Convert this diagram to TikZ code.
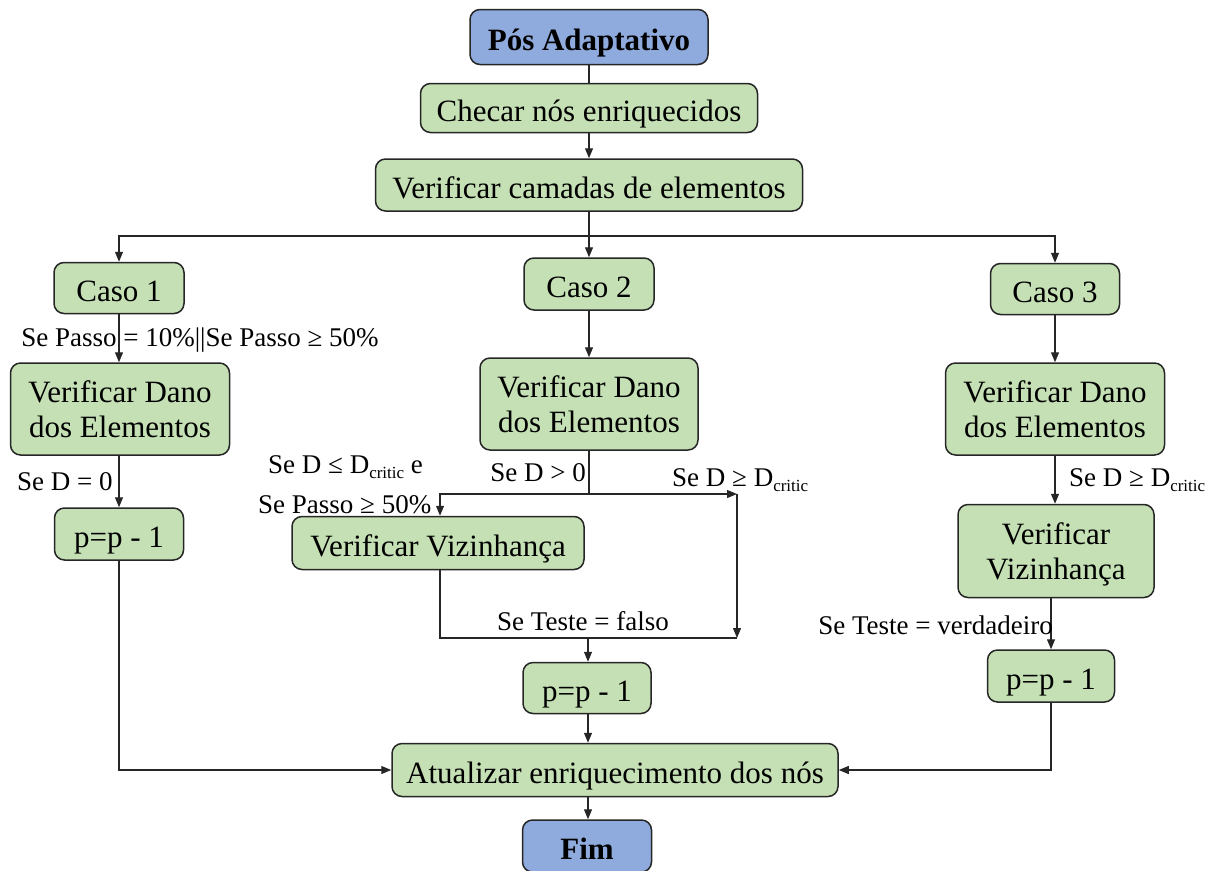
\documentclass[tikz,border=0pt]{standalone}
\usepackage{fontspec}
\setmainfont{Liberation Serif}
\usetikzlibrary{arrows.meta}
\definecolor{boxgreen}{HTML}{C5E0B4}
\definecolor{boxblue}{HTML}{8FAADC}
\definecolor{edge}{HTML}{262626}
% lowered, reduced subscript for the critical damage value
\newcommand\critsub{\raisebox{-0.45ex}{\fontsize{17}{17}\selectfont critic}}
\begin{document}
\begin{tikzpicture}[x=1pt,y=-1pt,
  boxbase/.style={draw=edge,line width=1.5pt,rounded corners=10pt,fill=boxgreen,
    inner sep=0pt,align=center,font=\fontsize{31}{35}\selectfont},
  box/.style={boxbase,text height=28pt,text depth=1.5pt},
  box2/.style={boxbase,text depth=0pt},
  term/.style={box,fill=boxblue,font=\fontsize{31}{35}\selectfont\bfseries},
  lbl/.style={inner sep=0pt,font=\fontsize{27}{31}\selectfont},
  conn/.style={draw=edge,line width=1.2pt},
  arr/.style={conn,-{Triangle[length=10pt,width=8pt]}}]
\useasboundingbox (0,0) rectangle (1214,870);

% boxes
\node[term,minimum width=238pt,minimum height=55pt] (start) at (589,37) {Pós Adaptativo};
\node[box,minimum width=337pt,minimum height=49pt] (check) at (589,108) {Checar nós enriquecidos};
\node[box,minimum width=427pt,minimum height=52pt] (layers) at (589,185) {Verificar camadas de elementos};

\node[box,minimum width=130pt,minimum height=51pt] (c1) at (119,288) {Caso 1};
\node[box,minimum width=130pt,minimum height=52pt] (c2) at (589,284) {Caso 2};
\node[box,minimum width=129pt,minimum height=51pt] (c3) at (1055,289) {Caso 3};

\node[box2,minimum width=219pt,minimum height=92pt] (d1) at (120,409) {Verificar Dano\\dos Elementos};
\node[box2,minimum width=218pt,minimum height=92pt] (d2) at (589,404) {Verificar Dano\\dos Elementos};
\node[box2,minimum width=219pt,minimum height=92pt] (d3) at (1055,409) {Verificar Dano\\dos Elementos};

\node[box,minimum width=129pt,minimum height=52pt] (p1) at (119,534) {p=p - 1};
\node[box,minimum width=292pt,minimum height=53pt] (v2) at (438,543) {Verificar Vizinhança};
\node[box2,minimum width=196pt,minimum height=93pt] (v3) at (1056,551) {Verificar\\Vizinhança};

\node[box,minimum width=128pt,minimum height=51pt] (p2) at (587,688) {p=p - 1};
\node[box,minimum width=127pt,minimum height=52pt] (p3) at (1051,676) {p=p - 1};

\node[box,minimum width=446pt,minimum height=53pt] (upd) at (615,770) {Atualizar enriquecimento dos nós};
\node[term,minimum width=129pt,minimum height=52pt] (end) at (587,846) {Fim};

% junction points
\coordinate (split) at (589,236);
\coordinate (j2) at (589,494);
\coordinate (jl) at (440,494);
\coordinate (jr) at (737,494);
\coordinate (jb) at (737,638);
\coordinate (m2) at (588,638);

% connectors
\draw[conn] (start.south) -- (check.north);
\draw[arr] (check.south) -- (layers.north);
\draw[conn] (layers.south) -- (split);
\draw[arr] (split) -| (c1.north);
\draw[arr] (split) -- (c2.north);
\draw[arr] (split) -| (c3.north);

\draw[arr] (c1.south) -- (d1.north -| c1.south);
\draw[arr] (d1.south -| p1.north) -- (p1.north);
\draw[arr] (p1.south) |- (upd.west);

\draw[arr] (c2.south) -- (d2.north);
\draw[conn] (d2.south) -- (j2);
\draw[arr] (j2) -- (jl) -- (v2.north -| jl);
\draw[arr] (j2) -- (jr);
\draw[arr] (jr) -- (jb);
\draw[conn] (v2.south -| jl) |- (jb);
\draw[arr] (m2) -- (p2.north -| m2);
\draw[arr] (p2.south -| m2) -- (upd.north -| m2);
\draw[arr] (upd.south -| m2) -- (end.north -| m2);

\draw[arr] (c3.south) -- (d3.north);
\draw[arr] (d3.south) -- (v3.north -| d3.south);
\draw[arr] (v3.south -| p3.north) -- (p3.north);
\draw[arr] (p3.south) |- (upd.east);

% condition labels
\node[lbl] (l1) at (200,340) {Se Passo = 10\%||Se Passo ≥ 50\%};
\node[lbl,anchor=west] (l2) at (17,482) {Se D = 0};
\node[lbl,anchor=east] (l3) at (586,473) {Se D > 0};
\node[lbl,anchor=west] (l4) at (268,467) {Se D ≤ D\critsub{} e};
\node[lbl,anchor=west] (l5) at (258,505) {Se Passo ≥ 50\%};
\node[lbl,anchor=west] (l6) at (672,480) {Se D ≥ D\critsub};
\node[lbl] (l7) at (583,621) {Se Teste = falso};
\node[lbl,anchor=west] (l8) at (1069,480) {Se D ≥ D\critsub};
\node[lbl,anchor=east] (l9) at (1053,625) {Se Teste = verdadeiro};
\end{tikzpicture}
\end{document}
